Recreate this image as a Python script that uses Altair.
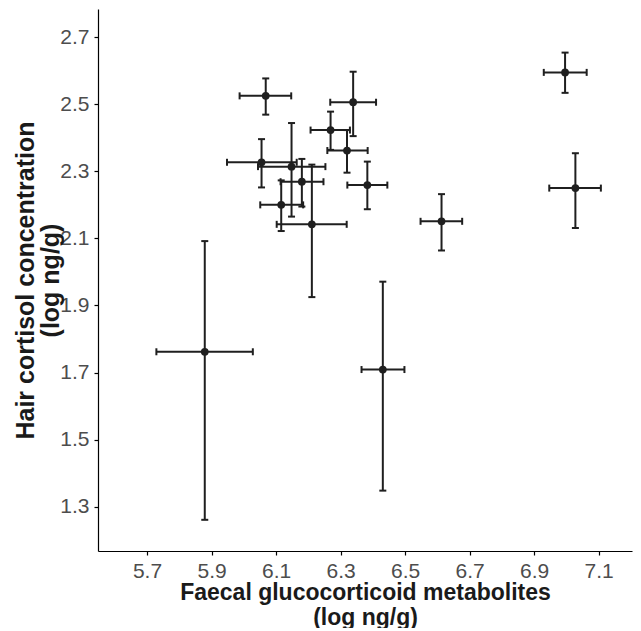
import altair as alt
import pandas as pd

# Faecal glucocorticoid metabolites (log ng/g): mean, lower, upper
fgm = [5.879, 6.068, 6.055, 6.148, 6.180, 6.116, 6.211, 6.269, 6.320, 6.339, 6.383, 6.431, 6.613, 6.996, 7.028]
fgm_lo = [5.729, 5.987, 5.948, 6.044, 6.114, 6.051, 6.102, 6.207, 6.259, 6.268, 6.321, 6.365, 6.548, 6.930, 6.947]
fgm_hi = [6.028, 6.147, 6.164, 6.253, 6.247, 6.184, 6.319, 6.329, 6.384, 6.410, 6.445, 6.498, 6.677, 7.063, 7.107]

# Hair cortisol concentration (log ng/g): mean, lower, upper
hc = [1.762, 2.525, 2.327, 2.314, 2.269, 2.200, 2.142, 2.423, 2.362, 2.506, 2.259, 1.709, 2.151, 2.595, 2.250]
hc_lo = [1.261, 2.469, 2.252, 2.165, 2.195, 2.122, 1.925, 2.364, 2.296, 2.405, 2.187, 1.348, 2.064, 2.534, 2.131]
hc_hi = [2.092, 2.577, 2.396, 2.444, 2.337, 2.273, 2.320, 2.478, 2.423, 2.597, 2.329, 1.971, 2.232, 2.654, 2.354]

x_ticks = [5.7, 5.9, 6.1, 6.3, 6.5, 6.7, 6.9, 7.1]
y_ticks = [1.3, 1.5, 1.7, 1.9, 2.1, 2.3, 2.5, 2.7]

df = pd.DataFrame({
    "fgm": fgm, "fgm_lo": fgm_lo, "fgm_hi": fgm_hi,
    "hc": hc, "hc_lo": hc_lo, "hc_hi": hc_hi,
})

INK = "#1f1f1f"
xs = alt.Scale(domain=[5.548, 7.2035], nice=False, zero=False)
ys = alt.Scale(domain=[1.168, 2.784], nice=False, zero=False)

xaxis = alt.Axis(values=x_ticks, format=".1f", grid=False,
                 title=["Faecal glucocorticoid metabolites", "(log ng/g)"],
                 labelPadding=5, titlePadding=0, titleLineHeight=25, titleFontSize=23)
yaxis = alt.Axis(values=y_ticks, format=".1f", grid=False,
                 title=["Hair cortisol concentration", "(log ng/g)"],
                 labelPadding=5, titlePadding=-4, titleLineHeight=25, titleFontSize=25)

base = alt.Chart(df)

xbar = base.mark_rule(color=INK, strokeWidth=2).encode(
    x=alt.X("fgm_lo:Q", scale=xs, axis=xaxis), x2="fgm_hi:Q",
    y=alt.Y("hc:Q", scale=ys, axis=yaxis))
ybar = base.mark_rule(color=INK, strokeWidth=2).encode(
    x=alt.X("fgm:Q", scale=xs, axis=xaxis),
    y=alt.Y("hc_lo:Q", scale=ys, axis=yaxis), y2="hc_hi:Q")
xcap_lo = base.mark_tick(color=INK, orient="vertical", size=7, thickness=2, opacity=1).encode(
    x=alt.X("fgm_lo:Q", scale=xs, axis=xaxis), y=alt.Y("hc:Q", scale=ys, axis=yaxis))
xcap_hi = base.mark_tick(color=INK, orient="vertical", size=7, thickness=2, opacity=1).encode(
    x=alt.X("fgm_hi:Q", scale=xs, axis=xaxis), y=alt.Y("hc:Q", scale=ys, axis=yaxis))
ycap_lo = base.mark_tick(color=INK, orient="horizontal", size=7, thickness=2, opacity=1).encode(
    x=alt.X("fgm:Q", scale=xs, axis=xaxis), y=alt.Y("hc_lo:Q", scale=ys, axis=yaxis))
ycap_hi = base.mark_tick(color=INK, orient="horizontal", size=7, thickness=2, opacity=1).encode(
    x=alt.X("fgm:Q", scale=xs, axis=xaxis), y=alt.Y("hc_hi:Q", scale=ys, axis=yaxis))
pts = base.mark_circle(color=INK, size=60, opacity=1).encode(
    x=alt.X("fgm:Q", scale=xs, axis=xaxis), y=alt.Y("hc:Q", scale=ys, axis=yaxis))

chart = alt.layer(xbar, ybar, xcap_lo, xcap_hi, ycap_lo, ycap_hi, pts).properties(
    width=534, height=542,
    autosize=alt.AutoSizeParams(type="none"),
    padding={"left": 90, "top": 1, "right": 1, "bottom": 77},
).configure_view(stroke=None).configure_axis(
    domainColor="#000000", domainWidth=1.2, tickColor="#000000", tickSize=4, tickWidth=1.2,
    labelFont="Liberation Sans", labelFontSize=21, labelColor="#4d4d4d",
    titleFont="Liberation Sans", titleFontWeight="bold", titleColor="#1a1a1a",
)

chart.save("out.html", embed_options={"renderer": "svg", "actions": False})
